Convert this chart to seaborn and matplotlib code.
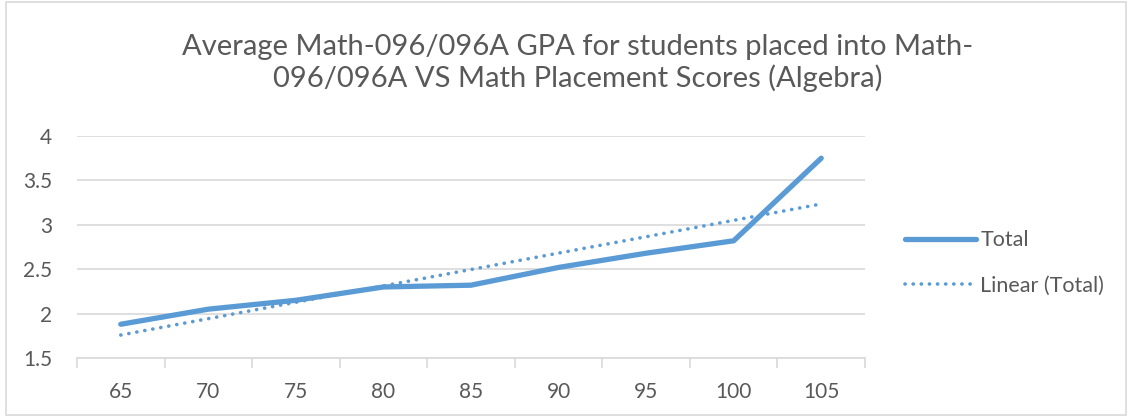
import matplotlib
matplotlib.use("Agg")
import matplotlib.pyplot as plt
import matplotlib.patches as mpatches
import seaborn as sns
import pandas as pd

# placement score bins and average GPA
scores = [65, 70, 75, 80, 85, 90, 95, 100, 105]
gpa = [1.88, 2.05, 2.15, 2.30, 2.32, 2.52, 2.68, 2.82, 3.75]
yticks = [1.5, 2, 2.5, 3, 3.5, 4]

title = "Average Math-096/096A GPA for students placed into Math-\n096/096A VS Math Placement Scores (Algebra)"

blue = "#5B9BD5"
grey_txt = "#595959"
grid_c = "#D9D9D9"

sns.set_theme(style="white")
plt.rcParams["font.family"] = ["Lato", "DejaVu Sans"]

df = pd.DataFrame({"score": scores, "gpa": gpa})

fig = plt.figure(figsize=(11.32, 4.17), dpi=100)
ax = fig.add_axes([77 / 1132, 59 / 417, 788 / 1132, 222 / 417])

sns.lineplot(data=df, x="score", y="gpa", ax=ax, color=blue, linewidth=3.8,
             solid_capstyle="round", solid_joinstyle="round", label="Total")
sns.regplot(data=df, x="score", y="gpa", ax=ax, scatter=False, ci=None,
            truncate=True, label="Linear (Total)",
            line_kws=dict(color=blue, linewidth=2.6, linestyle=(0, (0.05, 2.2)),
                          dash_capstyle="round"))

ax.set_xlim(62.5, 107.5)
ax.set_ylim(1.5, 4)
ax.set_xticks(scores)
ax.set_xticks([s - 2.5 for s in scores] + [scores[-1] + 2.5], minor=True)
ax.set_yticks(yticks)
ax.set_yticklabels([f"{v:g}" for v in yticks])
ax.set_xlabel("")
ax.set_ylabel("")

ax.grid(axis="y", color=grid_c, linewidth=1.2)
ax.set_axisbelow(True)
for side in ["top", "right", "left"]:
    ax.spines[side].set_visible(False)
ax.spines["bottom"].set_color(grid_c)
ax.spines["bottom"].set_linewidth(1.2)

ax.tick_params(axis="x", which="major", length=0, pad=17, labelsize=15, labelcolor=grey_txt)
ax.tick_params(axis="x", which="minor", bottom=True, length=7, width=1.2, color=grid_c)
ax.tick_params(axis="y", length=0, pad=18, labelsize=15, labelcolor=grey_txt)

fig.text(578 / 1132, 1 - 63 / 417, title, ha="center", va="center", fontsize=21,
         color=grey_txt, linespacing=1.15)

ax.legend(loc="center left", bbox_to_anchor=(905 / 1132, 1 - 263 / 417),
          bbox_transform=fig.transFigure, frameon=False, fontsize=15.5,
          labelcolor=grey_txt, handlelength=3.3, handletextpad=0.2, labelspacing=1.2,
          borderaxespad=0, borderpad=0)

fig.patches.append(mpatches.Rectangle((6 / 1132, 2 / 417), 1120 / 1132, 413 / 417,
                                      transform=fig.transFigure, fill=False,
                                      edgecolor=grid_c, linewidth=1.2))

fig.savefig("out.png", dpi=100)
